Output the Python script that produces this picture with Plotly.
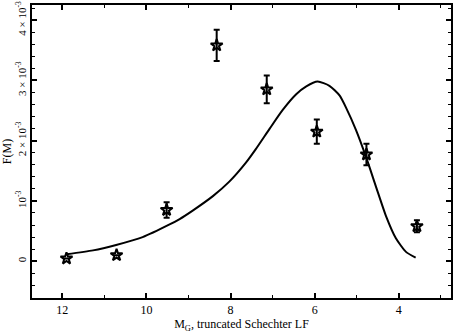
import plotly.graph_objects as go

# data points (magnitude, F(M) in units of 1e-3, error)
mag = [11.9, 10.71, 9.52, 8.33, 7.14, 5.95, 4.77, 3.57]
fm = [0.045, 0.10, 0.85, 3.58, 2.85, 2.15, 1.77, 0.58]
fm_err = [0.0, 0.0, 0.13, 0.26, 0.23, 0.2, 0.18, 0.1]

# model curve (truncated Schechter LF)
curve_mag = [11.9, 11.27, 10.72, 10.09, 9.45, 9.21, 8.9, 8.42, 8.03, 7.63, 7.40, 7.07,
             6.76, 6.44, 6.2, 5.93, 5.65, 5.41, 5.25, 5.02, 4.78, 4.54, 4.3, 4.07, 3.83, 3.6]
curve_fm = [0.116, 0.18, 0.27, 0.40, 0.61, 0.70, 0.84, 1.08, 1.32, 1.64, 1.86, 2.20,
            2.51, 2.77, 2.90, 2.98, 2.91, 2.75, 2.54, 2.18, 1.73, 1.23, 0.74, 0.38, 0.155, 0.06]

xtick_vals = [12, 10, 8, 6, 4]
ytick_vals = [0, 1, 2, 3, 4]
ytick_text = ["0", "10<sup>-3</sup>", "2 × 10<sup>-3</sup>", "3 × 10<sup>-3</sup>", "4 × 10<sup>-3</sup>"]

scale = 1e-3
fig = go.Figure()
fig.add_trace(go.Scatter(
    x=curve_mag, y=[v * scale for v in curve_fm], mode="lines",
    line=dict(color="black", width=2, shape="spline", smoothing=0.6),
    hoverinfo="skip", showlegend=False))
fig.add_trace(go.Scatter(
    x=mag, y=[v * scale for v in fm], mode="markers",
    marker=dict(symbol="star-open", size=9, color="black", line=dict(color="black", width=2)),
    error_y=dict(type="data", array=[e * scale for e in fm_err], visible=True,
                 color="black", thickness=2, width=3),
    showlegend=False))

font = dict(family="Liberation Serif, Times New Roman, serif", color="black", size=12)
fig.update_layout(
    width=456, height=333,
    margin=dict(l=32, r=5, t=5, b=35),
    paper_bgcolor="white", plot_bgcolor="white",
    font=font,
    xaxis=dict(range=[12.72, 2.76], tickvals=xtick_vals, ticktext=[str(v) for v in xtick_vals],
               ticks="inside", ticklen=5, tickwidth=1.5, tickcolor="black",
               minor=dict(dtick=1, ticks="inside", ticklen=3, tickwidth=1, tickcolor="black"),
               showline=True, linewidth=2, linecolor="black", mirror="allticks",
               showgrid=False, zeroline=False, automargin=False,
               title=dict(text="M<sub>G</sub>, truncated Schechter LF", standoff=2,
                          font=dict(size=12)),
               tickfont=dict(size=12)),
    yaxis=dict(range=[-0.61e-3, 4.25e-3], tickvals=[v * scale for v in ytick_vals],
               ticktext=ytick_text, tickangle=-90,
               ticks="inside", ticklen=5, tickwidth=1.5, tickcolor="black",
               minor=dict(dtick=0.2e-3, tick0=0, ticks="inside", ticklen=3, tickwidth=1, tickcolor="black"),
               showline=True, linewidth=2, linecolor="black", mirror="allticks",
               showgrid=False, zeroline=False, automargin=False,
               title=dict(text="F(M)", standoff=0, font=dict(size=12)),
               tickfont=dict(size=11)),
)
fig.write_html("out.html", config={"displayModeBar": False},
               post_script="document.body.style.margin='0';document.body.style.overflow='hidden';")
